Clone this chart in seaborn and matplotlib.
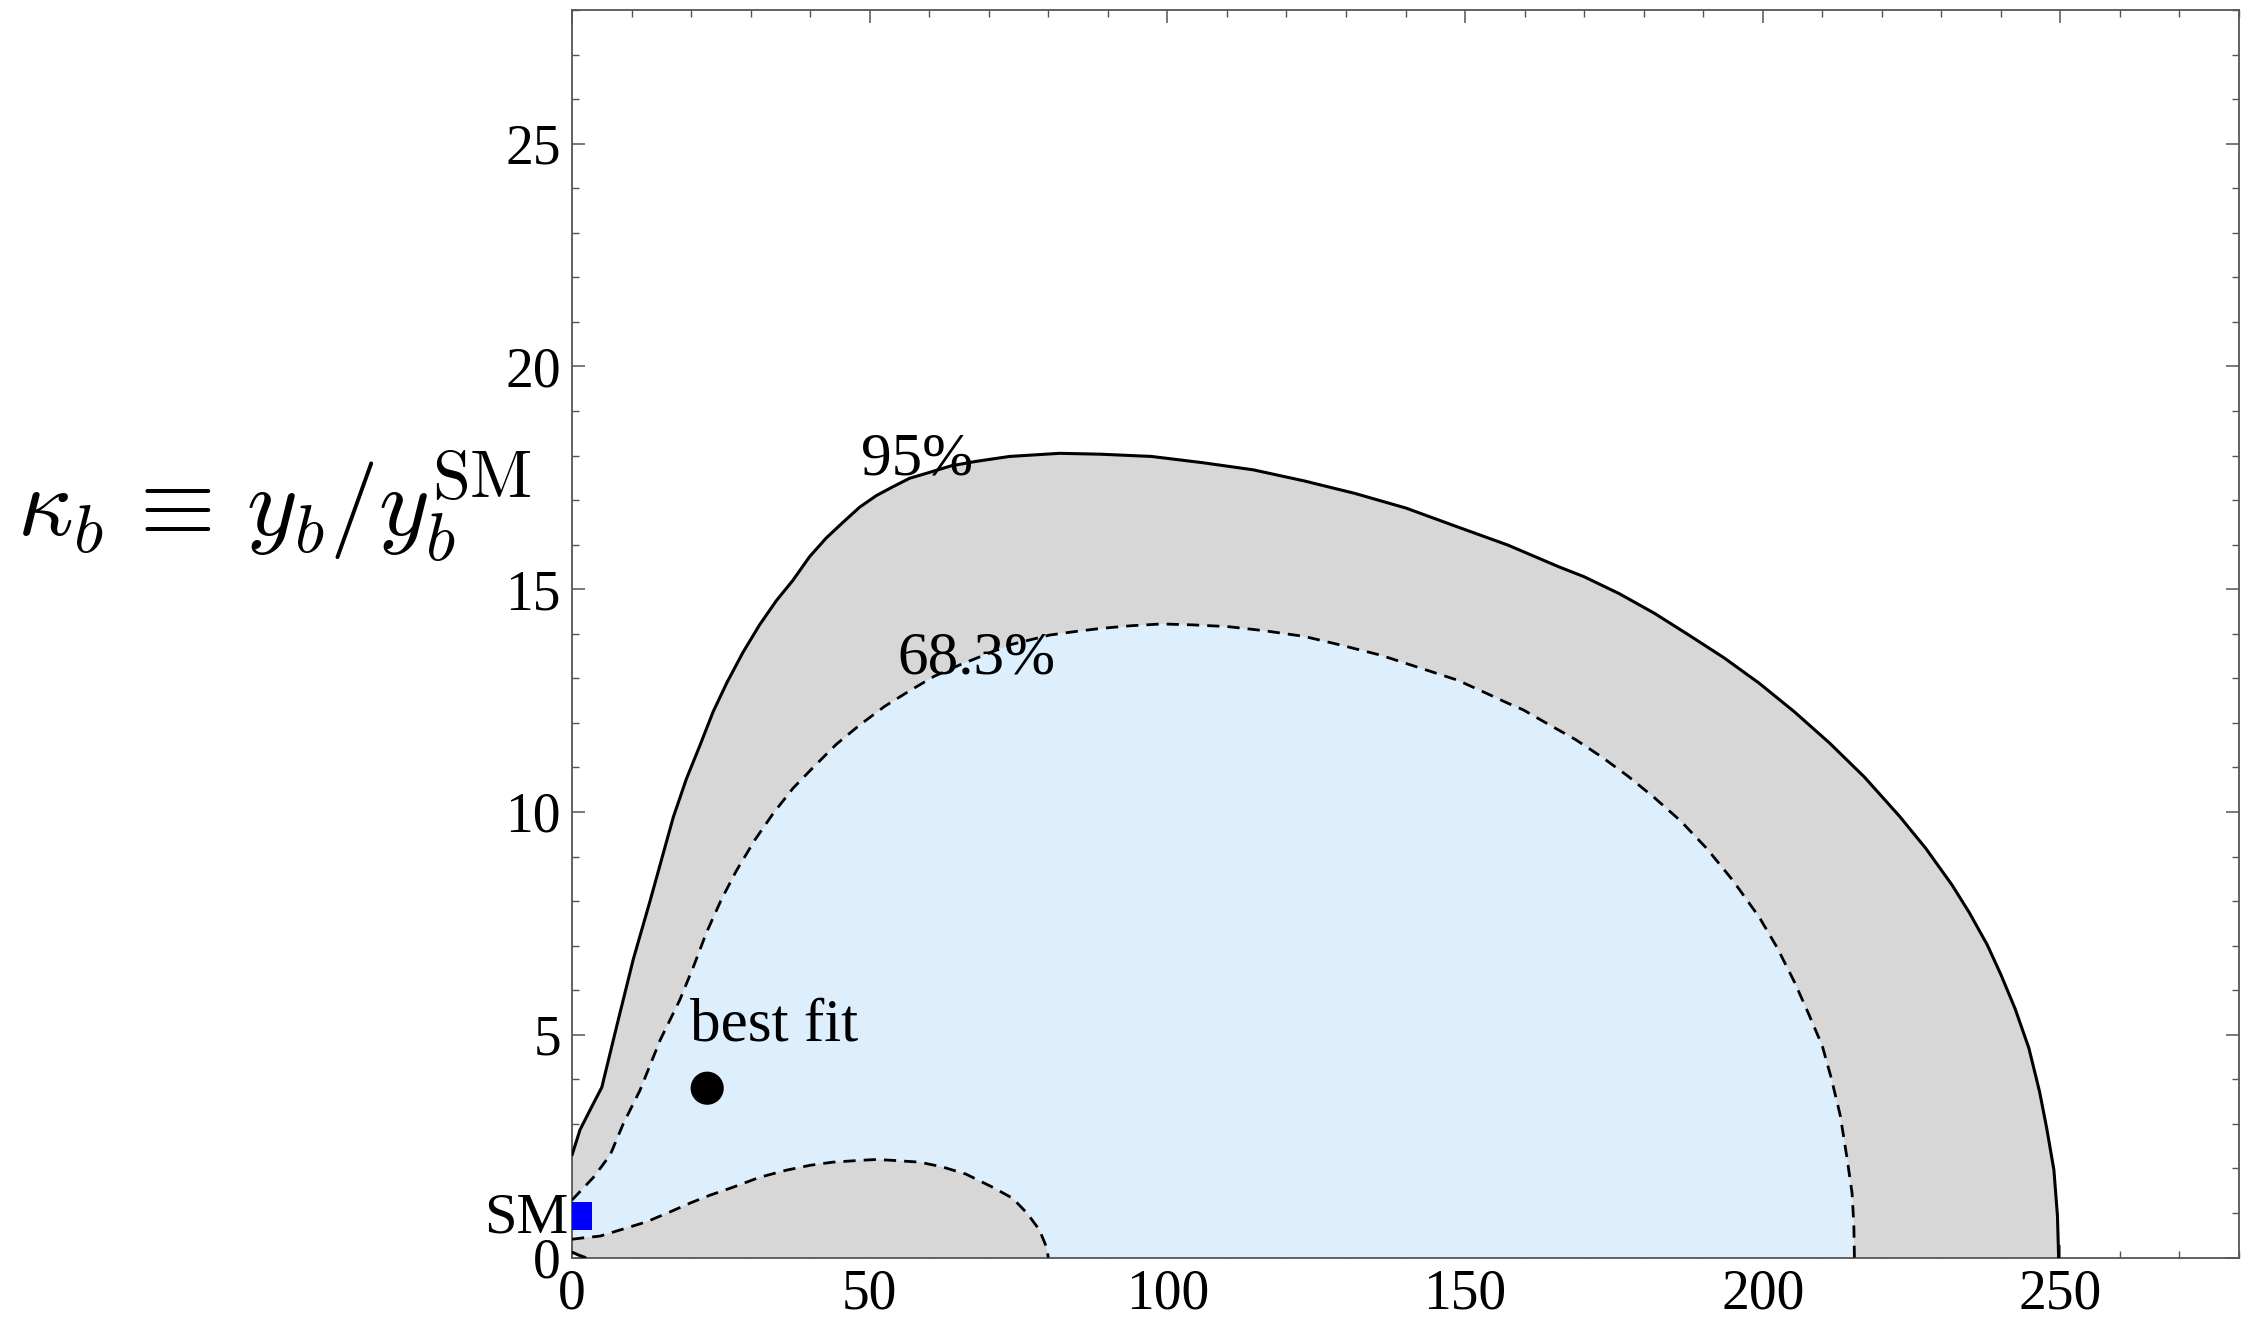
import matplotlib
matplotlib.use("Agg")
import matplotlib.pyplot as plt
from matplotlib.ticker import MultipleLocator
import seaborn as sns
import pandas as pd

# ---- data ----
# 95% contour (solid), left to right
outer_x = [0, 1.35, 3.6, 5.0, 7.7, 10.3, 13.1, 17.0, 19.2, 21.5, 23.7, 26.0, 28.7, 31.5, 34.3,
           37.1, 39.9, 42.7, 45.5, 48.3, 51.1, 53.9, 56.7, 59.5, 63.7, 67.9, 73.5, 81.9, 88.8,
           97.3, 105.9, 114.4, 123.0, 131.5, 140.1, 148.7, 157.2, 165.8, 170.0, 175.9, 181.8,
           187.6, 193.5, 199.4, 205.3, 211.2, 217.1, 223.0, 227.4, 231.8, 234.7, 237.7, 240.0,
           242.4, 244.7, 246.5, 247.7, 248.9, 249.5, 249.7]
outer_y = [2.3, 2.87, 3.46, 3.82, 5.3, 6.7, 8.0, 9.88, 10.74, 11.5, 12.25, 12.9, 13.58, 14.2, 14.74,
           15.2, 15.73, 16.15, 16.5, 16.84, 17.1, 17.3, 17.49, 17.6, 17.77, 17.87, 17.98, 18.05, 18.03,
           17.98, 17.84, 17.68, 17.43, 17.15, 16.82, 16.4, 15.99, 15.5, 15.28, 14.9, 14.46,
           13.97, 13.46, 12.89, 12.25, 11.55, 10.78, 9.9, 9.18, 8.36, 7.74, 7.02, 6.35,
           5.58, 4.7, 3.72, 2.9, 1.97, 0.94, 0.0]
# tiny piece of the 95% contour near the origin
corner_x = [0, 1.0, 2.2]
corner_y = [0.12, 0.06, 0.0]
# 68.3% contour (dashed), upper branch
upper_x = [0, 3.6, 6.4, 8.6, 11.4, 14.8, 18.1, 20.4, 22.6, 25.1, 27.6, 30.7, 33.8, 37.1, 40.5,
           44.4, 48.3, 52.5, 56.7, 60.9, 65.1, 73.5, 80.2, 84.5, 88.8, 93.9, 99.0, 104.2, 110.2,
           116.2, 123.0, 129.0, 135.8, 141.8, 148.7, 153.0, 157.2, 159.8, 164.1, 168.5, 172.9,
           177.3, 181.8, 186.2, 190.6, 195.0, 199.4, 202.4, 205.3, 207.7, 210.0, 211.5, 213.0,
           214.1, 215.0, 215.3, 215.4]
upper_y = [1.29, 1.8, 2.3, 3.0, 3.75, 4.88, 5.78, 6.53, 7.3, 8.04, 8.68, 9.37, 9.97, 10.53, 11.0,
           11.52, 11.95, 12.37, 12.72, 13.05, 13.3, 13.75, 13.97, 14.05, 14.12, 14.18, 14.22, 14.2, 14.16,
           14.07, 13.94, 13.75, 13.52, 13.26, 12.96, 12.7, 12.44, 12.29, 11.96, 11.63, 11.24,
           10.81, 10.32, 9.8, 9.18, 8.46, 7.64, 6.96, 6.19, 5.47, 4.75, 4.03, 3.2,
           2.28, 1.45, 0.73, 0.0]
# 68.3% contour (dashed), lower branch
lower_x = [0, 2.46, 4.7, 8.6, 12.5, 16.4, 19.8, 23.2, 27.1, 31.5, 36.0, 40.0, 43.8, 48.3, 51.1,
           53.9, 58.4, 62.3, 66.2, 70.6, 74.0, 76.4, 78.5, 79.7, 80.0]
lower_y = [0.41, 0.45, 0.48, 0.64, 0.8, 1.02, 1.22, 1.4, 1.58, 1.8, 1.96, 2.07, 2.14, 2.18, 2.2,
           2.18, 2.14, 2.03, 1.87, 1.58, 1.33, 1.0, 0.62, 0.23, 0.0]

best_fit = (22.7, 3.8)
sm_point = (1.0, 0.93)

x_ticks = [0, 50, 100, 150, 200, 250]
y_ticks = [0, 5, 10, 15, 20, 25]
x_lim = (0, 280)
y_lim = (0, 28)

# ---- style ----
sns.set_theme(style="ticks")
plt.rcParams["font.family"] = ["Liberation Serif", "DejaVu Serif"]
plt.rcParams["mathtext.fontset"] = "cm"
plt.rcParams["text.color"] = "black"
plt.rcParams["axes.labelcolor"] = "black"

GRAY = "#d7d7d7"
BLUE = "#ddeefd"
FRAME = "#555555"

fig = plt.figure(figsize=(22.53, 13.18), dpi=100)
ax = fig.add_axes([0.2539, 0.0459, 0.7399, 0.9465])

# fills
gray_poly_x = outer_x + corner_x[::-1]
gray_poly_y = outer_y + corner_y[::-1]
ax.fill(gray_poly_x, gray_poly_y, color=GRAY, lw=0, zorder=1)
blue_poly_x = upper_x + lower_x[::-1]
blue_poly_y = upper_y + lower_y[::-1]
ax.fill(blue_poly_x, blue_poly_y, color=BLUE, lw=0, zorder=2)

# contour lines
for xs, ys in [(outer_x, outer_y), (corner_x, corner_y)]:
    sns.lineplot(data=pd.DataFrame({"x": xs, "y": ys}), x="x", y="y", sort=False,
                 estimator=None, color="black", lw=2.2, ax=ax, zorder=4,
                 solid_joinstyle="round")
for xs, ys in [(upper_x, upper_y), (lower_x, lower_y)]:
    sns.lineplot(data=pd.DataFrame({"x": xs, "y": ys}), x="x", y="y", sort=False,
                 estimator=None, color="black", lw=2.0, linestyle=(0, (4.4, 2.9)),
                 ax=ax, zorder=4)

# points
sns.scatterplot(x=[best_fit[0]], y=[best_fit[1]], s=570, color="black", edgecolor="none",
                ax=ax, zorder=5)
sns.scatterplot(x=[sm_point[0]], y=[sm_point[1]], s=430, marker="s", color="#0000ff",
                edgecolor="none", ax=ax, zorder=5)

# annotations
ax.text(57.9, 17.9, "95%", fontsize=44, ha="center", va="center", zorder=6)
ax.text(68.0, 13.45, "68.3%", fontsize=44, ha="center", va="center", zorder=6)
ax.text(34.0, 5.2, "best fit", fontsize=44, ha="center", va="center", zorder=6)
ax.text(-0.6, 0.87, "SM", fontsize=42, ha="right", va="center", zorder=6, clip_on=False)

# axes
ax.set_xlim(*x_lim)
ax.set_ylim(*y_lim)
ax.set_xticks(x_ticks)
ax.set_yticks(y_ticks)
ax.xaxis.set_minor_locator(MultipleLocator(10))
ax.yaxis.set_minor_locator(MultipleLocator(1))
ax.tick_params(which="both", direction="in", top=True, right=True, color=FRAME,
               labelsize=40, labelcolor="black")
ax.tick_params(which="major", length=9.5, width=1.1, pad=8)
ax.tick_params(which="minor", length=5, width=1.0)
for sp in ax.spines.values():
    sp.set_color(FRAME)
    sp.set_linewidth(1.3)
ax.set_xlabel("")
ax.set_ylabel("")

ax.text(-0.024, 0.578, r"$\kappa_b \,\equiv\, y_b/y_b^{\mathrm{SM}}$", transform=ax.transAxes,
        ha="right", va="baseline", fontsize=70)

fig.savefig("out.png", dpi=100, facecolor="white")
